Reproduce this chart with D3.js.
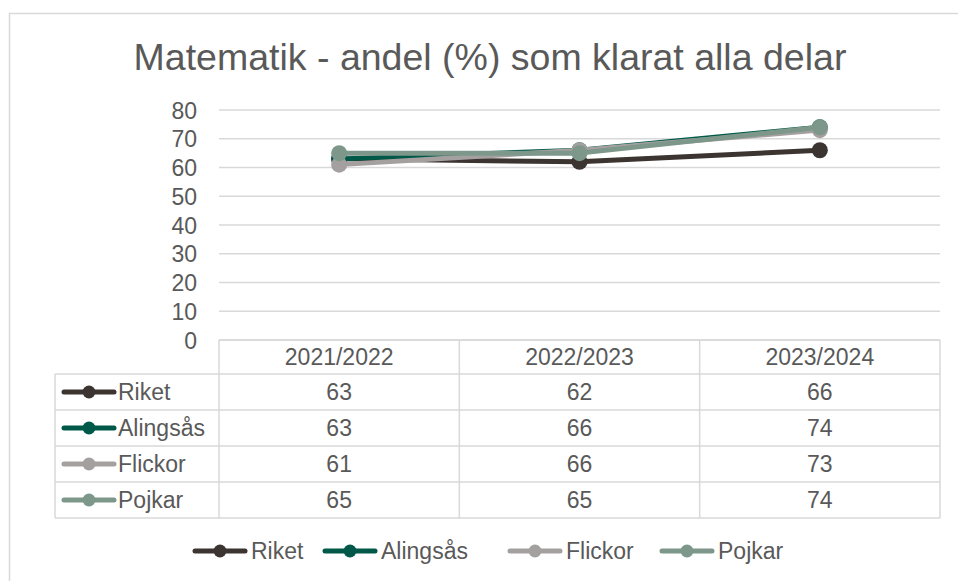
<!DOCTYPE html>
<html><head><meta charset="utf-8">
<script src="https://cdn.jsdelivr.net/npm/d3@7"></script>
<style>body{margin:0;background:#fff}svg{display:block;font-family:"Liberation Sans",Arial,sans-serif}</style>
</head><body><svg id="c" width="958" height="581"></svg>
<script>
const title = "Matematik - andel (%) som klarat alla delar";
const categories = ["2021/2022", "2022/2023", "2023/2024"];
const seriesNames = ["Riket", "Alingsås", "Flickor", "Pojkar"];
const riket = [63, 62, 66];
const alingsas = [63, 66, 74];
const flickor = [61, 66, 73];
const pojkar = [65, 65, 74];
const yTicks = [0, 10, 20, 30, 40, 50, 60, 70, 80];
const colors = ["#3b3431", "#005948", "#a5a0a0", "#7d978a"];
const seriesValues = [riket, alingsas, flickor, pojkar];

(function () {
const svg = d3.select("#c");
const textColor = "#595959", gridColor = "#d9d9d9";
const fs = 23;

svg.append("rect").attr("x", 9.5).attr("y", 13.5).attr("width", 960).attr("height", 600)
  .attr("fill", "#fff").attr("stroke", "#d9d9d9").attr("stroke-width", 1.5);

svg.append("text").attr("x", 490).attr("y", 70).attr("text-anchor", "middle")
  .attr("font-size", 37.5).attr("fill", textColor).text(title);

const pLeft = 219, pRight = 940, pTop = 110, pBottom = 340;
const x = d3.scaleBand().domain(categories).range([pLeft, pRight]);
const y = d3.scaleLinear().domain([0, 80]).range([pBottom, pTop]);

svg.append("g").selectAll("line").data(yTicks).join("line")
  .attr("x1", pLeft).attr("x2", pRight).attr("y1", d => y(d)).attr("y2", d => y(d))
  .attr("stroke", gridColor).attr("stroke-width", 1.3);

const yAxis = d3.axisLeft(y).tickValues(yTicks).tickSize(0).tickPadding(0);
const ga = svg.append("g").attr("transform", `translate(${pLeft - 22},0)`).call(yAxis);
ga.select(".domain").remove();
ga.selectAll("text").attr("font-size", fs).attr("fill", textColor)
  .attr("font-family", "'Liberation Sans',Arial,sans-serif").attr("dy", "0.35em");

const rowH = 36;
const tableTop = pBottom, headerH = 34;
const rowsTop = tableTop + headerH;
const labelLeft = 55;
const tg = svg.append("g");
const tableBottom = rowsTop + rowH * seriesNames.length;
tg.append("line").attr("x1", pLeft).attr("x2", pRight).attr("y1", tableTop).attr("y2", tableTop).attr("stroke", gridColor).attr("stroke-width", 1.5);
d3.range(seriesNames.length + 1).forEach(i => {
  tg.append("line").attr("x1", labelLeft).attr("x2", pRight)
    .attr("y1", rowsTop + i * rowH).attr("y2", rowsTop + i * rowH)
    .attr("stroke", gridColor).attr("stroke-width", 1.5);
});
tg.append("line").attr("x1", labelLeft).attr("x2", labelLeft).attr("y1", rowsTop).attr("y2", tableBottom).attr("stroke", gridColor).attr("stroke-width", 1.5);
categories.forEach(c => {
  tg.append("line").attr("x1", x(c)).attr("x2", x(c)).attr("y1", tableTop).attr("y2", tableBottom).attr("stroke", gridColor).attr("stroke-width", 1.5);
});
tg.append("line").attr("x1", pRight).attr("x2", pRight).attr("y1", tableTop).attr("y2", tableBottom).attr("stroke", gridColor).attr("stroke-width", 1.5);

tg.selectAll("text.h").data(categories).join("text").attr("class", "h")
  .attr("x", d => x(d) + x.bandwidth() / 2).attr("y", tableTop + headerH / 2)
  .attr("dy", "0.35em").attr("text-anchor", "middle").attr("font-size", fs).attr("fill", textColor).text(d => d);

seriesNames.forEach((name, i) => {
  const cy = rowsTop + i * rowH + rowH / 2;
  const g = tg.append("g");
  g.append("line").attr("x1", 64).attr("x2", 114).attr("y1", cy).attr("y2", cy)
    .attr("stroke", colors[i]).attr("stroke-width", 5).attr("stroke-linecap", "round");
  g.append("circle").attr("cx", 89).attr("cy", cy).attr("r", 6.5).attr("fill", colors[i]);
  g.append("text").attr("x", 118).attr("y", cy).attr("dy", "0.35em").attr("font-size", fs)
    .attr("fill", textColor).text(name);
  seriesValues[i].forEach((v, j) => {
    g.append("text").attr("x", x(categories[j]) + x.bandwidth() / 2).attr("y", cy).attr("dy", "0.35em")
      .attr("text-anchor", "middle").attr("font-size", fs).attr("fill", textColor).text(v);
  });
});

const line = d3.line().x((d, j) => x(categories[j]) + x.bandwidth() / 2).y(d => y(d));
seriesValues.forEach((vals, i) => {
  const g = svg.append("g");
  g.append("path").attr("d", line(vals)).attr("fill", "none").attr("stroke", colors[i])
    .attr("stroke-width", 5).attr("stroke-linejoin", "round").attr("stroke-linecap", "round");
  g.selectAll("circle").data(vals).join("circle")
    .attr("cx", (d, j) => x(categories[j]) + x.bandwidth() / 2).attr("cy", d => y(d)).attr("r", 8)
    .attr("fill", colors[i]);
});

const legendX = [195, 325, 510, 662];
seriesNames.forEach((name, i) => {
  const lx = legendX[i], ly = 551;
  const g = svg.append("g");
  g.append("line").attr("x1", lx).attr("x2", lx + 50).attr("y1", ly).attr("y2", ly)
    .attr("stroke", colors[i]).attr("stroke-width", 5).attr("stroke-linecap", "round");
  g.append("circle").attr("cx", lx + 25).attr("cy", ly).attr("r", 6.5).attr("fill", colors[i]);
  g.append("text").attr("x", lx + 56).attr("y", ly).attr("dy", "0.35em").attr("font-size", fs)
    .attr("fill", textColor).text(name);
});
})();
</script></body></html>
